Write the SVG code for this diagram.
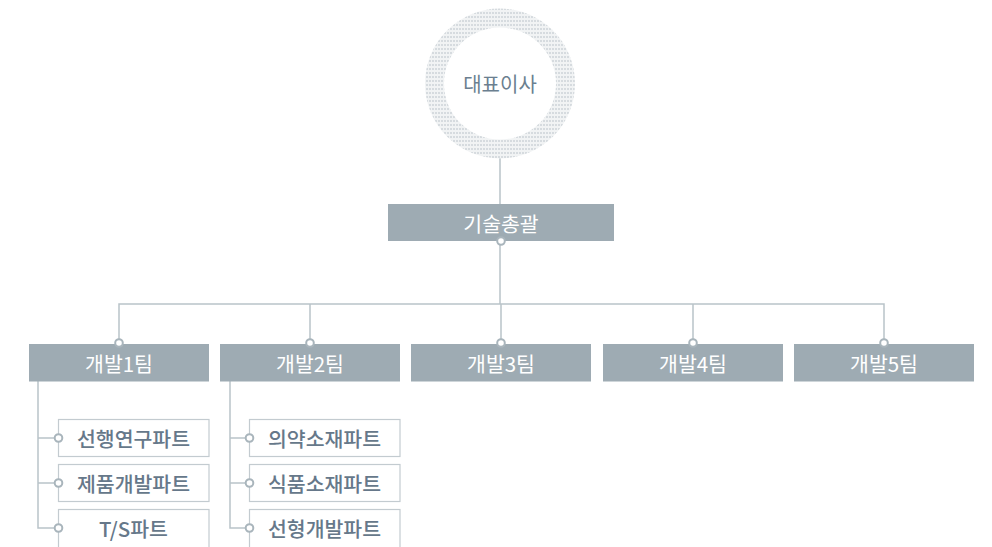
<svg xmlns="http://www.w3.org/2000/svg" width="992" height="547" viewBox="0 0 992 547">
<style>
.team{fill:#9eabb3}
.teamtxt{font-family:"Noto Sans CJK KR","Noto Sans",sans-serif;font-size:20.5px;fill:#ffffff;text-anchor:middle;dominant-baseline:central}
.part{fill:#ffffff;stroke:#c3cbd0;stroke-width:1.2}
.parttxt{font-family:"Noto Sans CJK KR","Noto Sans",sans-serif;font-size:20.5px;font-weight:500;fill:#66788a;text-anchor:middle;dominant-baseline:central}
.ln{fill:none;stroke:#b9c3c9;stroke-width:1.5}
.dot{fill:#ffffff;stroke:#a9b5bc;stroke-width:2}
</style>
<defs>
<pattern id="dots" width="3" height="4" patternUnits="userSpaceOnUse">
<rect width="3" height="4" fill="#f1f3f4"/>
<rect x="0" y="0" width="2" height="2" fill="#d6dbdf"/>
</pattern>
</defs>
<rect width="992" height="547" fill="#ffffff"/>
<g id="connectors">
<line class="ln" x1="500" y1="158" x2="500" y2="205"/>
<line class="ln" x1="500" y1="241" x2="500" y2="304"/>
<polyline class="ln" points="119,344 119,304 884,304 884,344"/>
<line class="ln" x1="310" y1="304" x2="310" y2="344"/>
<line class="ln" x1="501" y1="304" x2="501" y2="344"/>
<line class="ln" x1="693" y1="304" x2="693" y2="344"/>
<polyline class="ln" points="38,381 38,528 58,528"/>
<line class="ln" x1="38" y1="438" x2="58" y2="438"/>
<line class="ln" x1="38" y1="483" x2="58" y2="483"/>
<polyline class="ln" points="230,381 230,528 249,528"/>
<line class="ln" x1="230" y1="438" x2="249" y2="438"/>
<line class="ln" x1="230" y1="483" x2="249" y2="483"/>
</g>
<g id="ceo">
<circle cx="500" cy="83.5" r="75" fill="url(#dots)"/>
<circle cx="500" cy="83.5" r="56" fill="#ffffff"/>
<text x="500" y="83.5" font-family="'Noto Sans CJK KR','Noto Sans',sans-serif" font-size="20" font-weight="400" fill="#6b7f90" text-anchor="middle" dominant-baseline="central">대표이사</text>
</g>
<g id="cto">
<rect class="team" x="388" y="204" width="226" height="37"/>
<text class="teamtxt" x="501" y="222.5">기술총괄</text>
<circle class="dot" cx="501" cy="241" r="3.8"/>
</g>
<g id="team1">
<rect class="team" x="29" y="344" width="180" height="37.5"/>
<text class="teamtxt" x="119" y="362.5">개발1팀</text>
<circle class="dot" cx="119" cy="343" r="3.8"/>
</g>
<g id="team2">
<rect class="team" x="220" y="344" width="180" height="37.5"/>
<text class="teamtxt" x="310" y="362.5">개발2팀</text>
<circle class="dot" cx="310" cy="343" r="3.8"/>
</g>
<g id="team3">
<rect class="team" x="411" y="344" width="180" height="37.5"/>
<text class="teamtxt" x="501" y="362.5">개발3팀</text>
<circle class="dot" cx="501" cy="343" r="3.8"/>
</g>
<g id="team4">
<rect class="team" x="603" y="344" width="180" height="37.5"/>
<text class="teamtxt" x="693" y="362.5">개발4팀</text>
<circle class="dot" cx="693" cy="343" r="3.8"/>
</g>
<g id="team5">
<rect class="team" x="794" y="344" width="180" height="37.5"/>
<text class="teamtxt" x="884" y="362.5">개발5팀</text>
<circle class="dot" cx="884" cy="343" r="3.8"/>
</g>
<g id="part1-1">
<rect class="part" x="58.5" y="419.5" width="150.5" height="37"/>
<text class="parttxt" x="133.5" y="438">선행연구파트</text>
<circle class="dot" cx="58.5" cy="438" r="3.8"/>
</g>
<g id="part1-2">
<rect class="part" x="58.5" y="464.5" width="150.5" height="37"/>
<text class="parttxt" x="133.5" y="483">제품개발파트</text>
<circle class="dot" cx="58.5" cy="483" r="3.8"/>
</g>
<g id="part1-3">
<rect class="part" x="58.5" y="509.5" width="150.5" height="45"/>
<text class="parttxt" x="133.5" y="528">T/S파트</text>
<circle class="dot" cx="58.5" cy="528" r="3.8"/>
</g>
<g id="part2-1">
<rect class="part" x="249.5" y="419.5" width="150.5" height="37"/>
<text class="parttxt" x="324.5" y="438">의약소재파트</text>
<circle class="dot" cx="249.5" cy="438" r="3.8"/>
</g>
<g id="part2-2">
<rect class="part" x="249.5" y="464.5" width="150.5" height="37"/>
<text class="parttxt" x="324.5" y="483">식품소재파트</text>
<circle class="dot" cx="249.5" cy="483" r="3.8"/>
</g>
<g id="part2-3">
<rect class="part" x="249.5" y="509.5" width="150.5" height="45"/>
<text class="parttxt" x="324.5" y="528">선형개발파트</text>
<circle class="dot" cx="249.5" cy="528" r="3.8"/>
</g>
</svg>
